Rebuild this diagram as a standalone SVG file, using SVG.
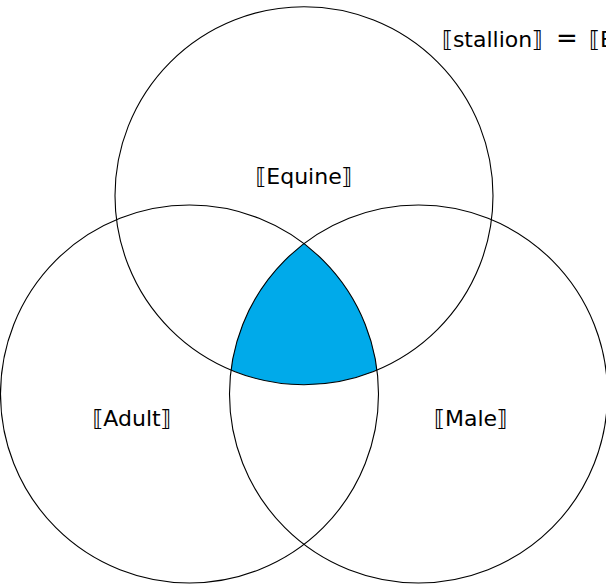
<svg xmlns="http://www.w3.org/2000/svg" width="606" height="584" viewBox="0 0 606 584">
<style>
.c{fill:none;stroke:#000;stroke-width:1.1}
.t{font-family:"DejaVu Sans",sans-serif;font-size:22px;fill:#000}
</style>
<defs>
<clipPath id="cl"><circle cx="189.5" cy="394" r="189"/></clipPath>
<clipPath id="cr"><circle cx="418.5" cy="394" r="189"/></clipPath>
</defs>
<rect width="606" height="584" fill="#fff"/>
<g id="intersection" clip-path="url(#cl)">
<g clip-path="url(#cr)">
<circle cx="304" cy="195.7" r="189" fill="#00AAEA"/>
</g>
</g>
<g id="equine"><circle class="c" cx="304" cy="195.7" r="189"/><text class="t" x="304" y="184" text-anchor="middle">⟦Equine⟧</text></g>
<g id="adult"><circle class="c" cx="189.5" cy="394" r="189"/><text class="t" x="132" y="426" text-anchor="middle">⟦Adult⟧</text></g>
<g id="male"><circle class="c" cx="418.5" cy="394" r="189"/><text class="t" x="471" y="426" text-anchor="middle">⟦Male⟧</text></g>
<g id="formula"><text class="t" x="442" y="47">⟦stallion⟧ <tspan x="556" font-size="26">=</tspan> <tspan x="589">⟦Equine⟧ ∩ ⟦Adult⟧ ∩ ⟦Male⟧</tspan></text></g>
<g id="connectors"/>
</svg>
